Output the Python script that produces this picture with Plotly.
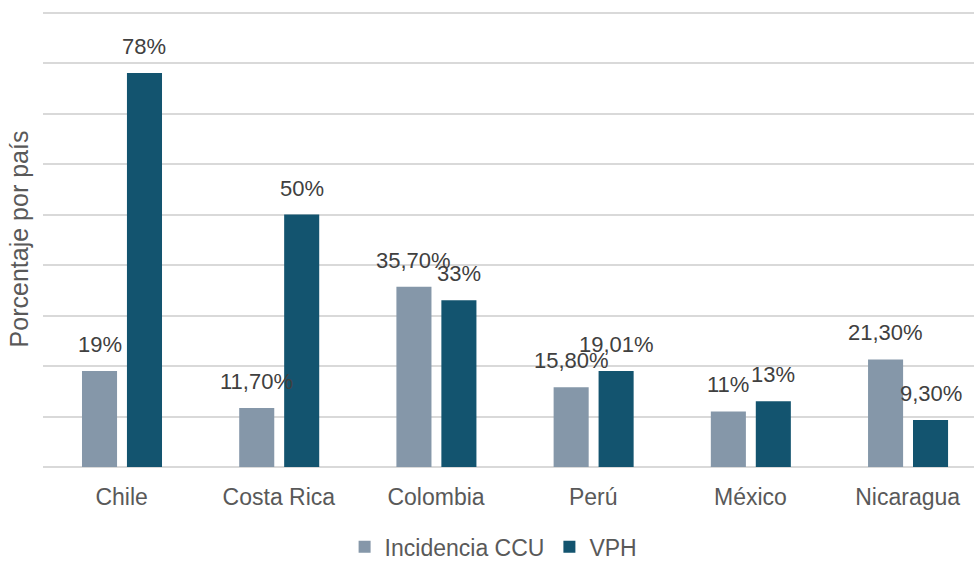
import plotly.graph_objects as go

paises = ["Chile", "Costa Rica", "Colombia", "Perú", "México", "Nicaragua"]
incidencia_ccu = [19, 11.7, 35.7, 15.8, 11, 21.3]
vph = [78, 50, 33, 19.01, 13, 9.3]
etiquetas_ccu = ["19%", "11,70%", "35,70%", "15,80%", "11%", "21,30%"]
etiquetas_vph = ["78%", "50%", "33%", "19,01%", "13%", "9,30%"]

COLOR_CCU = "#8597A9"
COLOR_VPH = "#13546F"
FONT = "Liberation Sans"

# bar geometry in category units
ancho = 0.223
desp_ccu = -0.252
desp_vph = 0.034

xs = list(range(len(paises)))

fig = go.Figure()
fig.add_trace(go.Bar(
    x=xs, y=incidencia_ccu, name="Incidencia CCU",
    marker=dict(color=COLOR_CCU, line=dict(width=0)),
    width=ancho, offset=desp_ccu,
))
fig.add_trace(go.Bar(
    x=xs, y=vph, name="VPH",
    marker=dict(color=COLOR_VPH, line=dict(width=0)),
    width=ancho, offset=desp_vph,
))

anotaciones = []
for i in xs:
    for val, txt, off in ((incidencia_ccu[i], etiquetas_ccu[i], desp_ccu),
                          (vph[i], etiquetas_vph[i], desp_vph)):
        anotaciones.append(dict(
            x=i + off + ancho / 2, y=val, xref="x", yref="y",
            text=txt, showarrow=False, yanchor="bottom", yshift=12,
            font=dict(family=FONT, size=22, color="#404040"),
        ))

fig.update_layout(
    width=974, height=561,
    margin=dict(l=43, r=0, t=11, b=94, autoexpand=False),
    paper_bgcolor="white", plot_bgcolor="white",
    annotations=anotaciones,
    showlegend=True,
    legend=dict(
        orientation="h", x=0.484, xanchor="center", xref="paper",
        y=-0.175, yanchor="middle",
        font=dict(family=FONT, size=23, color="#595959"),
        itemwidth=30, traceorder="normal",
    ),
    xaxis=dict(
        range=[-0.5, 5.422], tickmode="array", tickvals=xs, ticktext=paises,
        showgrid=False, zeroline=False, showline=False, ticks="",
        ticklabelstandoff=14, automargin=False,
        tickfont=dict(family=FONT, size=23, color="#595959"),
    ),
    yaxis=dict(
        range=[0, 90.3], dtick=10, showticklabels=False, automargin=False,
        showgrid=True, gridcolor="#D9D9D9", gridwidth=1.5,
        zeroline=True, zerolinecolor="#D9D9D9", zerolinewidth=1.5,
        title=dict(text="Porcentaje por país", standoff=6,
                   font=dict(family=FONT, size=25, color="#595959")),
    ),
)

fig.write_html("out.html")
